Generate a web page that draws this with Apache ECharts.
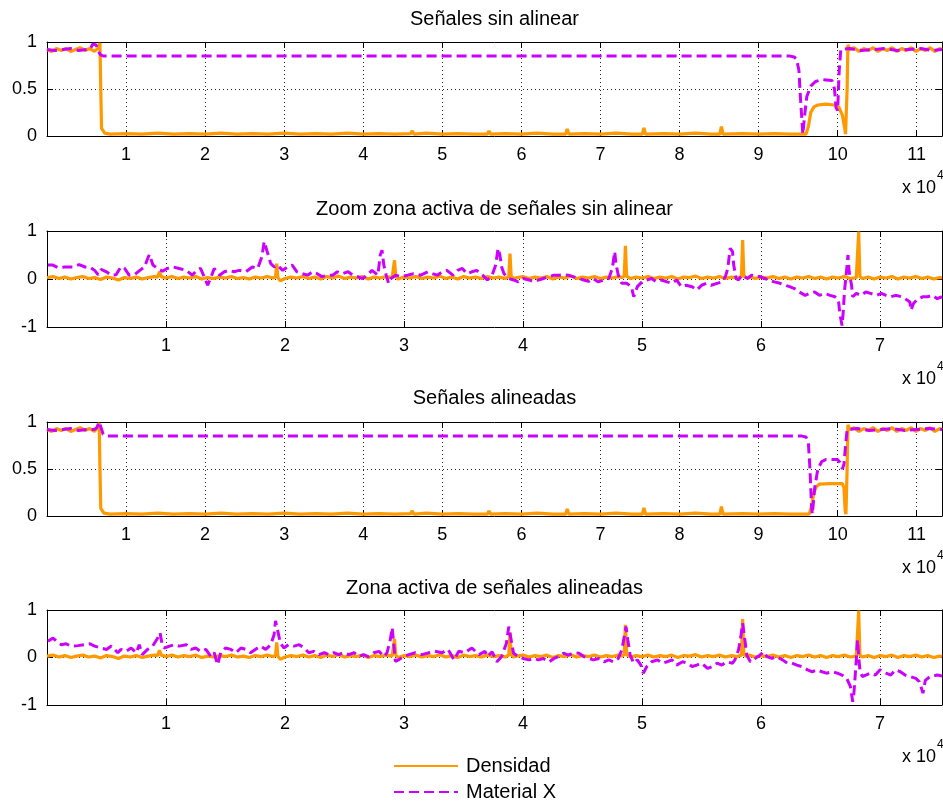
<!DOCTYPE html>
<html><head><meta charset="utf-8">
<script src="https://cdn.jsdelivr.net/npm/echarts@6/dist/echarts.min.js"></script>
<style>html,body{margin:0;padding:0;background:#fff}#c{width:943px;height:803px}</style>
</head><body><div id="c"></div>
<script>
// ---------- DATA ----------
const panelTitles = ['Señales sin alinear', 'Zoom zona activa de señales sin alinear', 'Señales alineadas', 'Zona activa de señales alineadas'];
const seriesNames = ['Densidad', 'Material X'];
const xMaxFull = 113200;
const xMaxZone = 75200;
const xTickStep = 10000;
const yTicksFull = [0, 0.5, 1];
const yTicksZone = [-1, 0, 1];
const xExponentLabel = 'x 10';
const xExponent = '4';

// Panel 1: señales sin alinear
const densidadSin = [[0,0.92],[600,0.9],[1200,0.93],[1800,0.91],[2400,0.93],[3000,0.9],[3600,0.92],[4200,0.94],[4800,0.91],[5400,0.93],[6000,0.9],[6400,0.93],[6600,0.96],[6700,0.99],[6800,0.5],[6900,0.08],[7100,0.06],[7300,0.03],[8000,0.02],[10000,0.025],[12000,0.02],[14000,0.03],[16000,0.02],[18000,0.025],[20000,0.02],[22000,0.03],[24000,0.02],[26000,0.025],[28000,0.02],[30000,0.03],[32000,0.02],[34000,0.025],[36000,0.02],[38000,0.03],[40000,0.02],[42000,0.025],[44000,0.02],[46000,0.025],[46200,0.055],[46400,0.02],[48000,0.03],[50000,0.02],[52000,0.025],[54000,0.02],[55700,0.02],[55900,0.055],[56100,0.02],[58000,0.025],[60000,0.02],[62000,0.03],[64000,0.02],[65600,0.02],[65800,0.075],[66000,0.02],[68000,0.025],[70000,0.02],[72000,0.03],[74000,0.02],[75300,0.02],[75500,0.085],[75700,0.02],[78000,0.025],[80000,0.02],[82000,0.03],[84000,0.02],[85100,0.02],[85300,0.1],[85500,0.02],[88000,0.025],[90000,0.02],[92000,0.025],[94000,0.02],[96000,0.02],[96300,0.1],[96600,0.25],[97000,0.31],[97500,0.33],[98500,0.34],[99500,0.33],[99900,0.33],[100200,0.3],[100600,0.22],[100900,0.08],[101000,0.02],[101200,0.5],[101300,0.97],[101500,0.92],[102100,0.94],[102700,0.9],[103300,0.93],[103900,0.91],[104500,0.94],[105100,0.9],[105700,0.93],[106300,0.91],[106900,0.94],[107500,0.9],[108100,0.93],[108700,0.91],[109300,0.94],[109900,0.9],[110500,0.93],[111100,0.91],[111700,0.94],[112300,0.9],[112900,0.93],[113200,0.92]];
const materialSin = [[0,0.92],[1000,0.91],[2000,0.92],[3000,0.93],[4000,0.91],[5000,0.92],[5500,0.93],[5800,0.98],[6000,1.0],[6200,0.97],[6500,0.9],[6800,0.86],[7200,0.85],[94000,0.85],[94500,0.84],[94800,0.82],[95100,0.7],[95300,0.4],[95600,0.02],[95800,0.2],[96100,0.42],[96600,0.53],[97200,0.58],[98000,0.6],[99300,0.59],[99600,0.5],[99800,0.3],[100000,0.27],[100200,0.7],[100400,0.92],[101500,0.93],[103000,0.91],[104500,0.92],[106000,0.93],[107500,0.91],[109000,0.92],[110500,0.93],[112000,0.91],[113200,0.92]];

// Panel 3: señales alineadas
const densidadAli = [[0,0.92],[600,0.9],[1200,0.93],[1800,0.91],[2400,0.93],[3000,0.9],[3600,0.92],[4200,0.94],[4800,0.91],[5400,0.93],[6000,0.9],[6300,0.93],[6500,0.96],[6600,0.99],[6700,0.5],[6800,0.08],[7000,0.06],[7200,0.03],[8000,0.02],[10000,0.025],[12000,0.02],[14000,0.03],[16000,0.02],[18000,0.025],[20000,0.02],[22000,0.03],[24000,0.02],[26000,0.025],[28000,0.02],[30000,0.03],[32000,0.02],[34000,0.025],[36000,0.02],[38000,0.03],[40000,0.02],[42000,0.025],[44000,0.02],[46000,0.025],[46200,0.055],[46400,0.02],[48000,0.03],[50000,0.02],[52000,0.025],[54000,0.02],[55700,0.02],[55900,0.055],[56100,0.02],[58000,0.025],[60000,0.02],[62000,0.03],[64000,0.02],[65600,0.02],[65800,0.075],[66000,0.02],[68000,0.025],[70000,0.02],[72000,0.03],[74000,0.02],[75300,0.02],[75500,0.085],[75700,0.02],[78000,0.025],[80000,0.02],[82000,0.03],[84000,0.02],[85100,0.02],[85300,0.1],[85500,0.02],[88000,0.025],[90000,0.02],[92000,0.025],[94000,0.02],[96400,0.02],[96700,0.1],[97000,0.25],[97300,0.31],[97700,0.34],[99000,0.345],[100600,0.345],[100800,0.3],[100950,0.06],[101050,0.02],[101200,0.5],[101300,0.97],[101500,0.92],[102100,0.94],[102700,0.9],[103300,0.93],[103900,0.91],[104500,0.94],[105100,0.9],[105700,0.93],[106300,0.91],[106900,0.94],[107500,0.9],[108100,0.93],[108700,0.91],[109300,0.94],[109900,0.9],[110500,0.93],[111100,0.91],[111700,0.94],[112300,0.9],[112900,0.93],[113200,0.92]];
const materialAli = [[0,0.92],[1000,0.91],[2000,0.92],[3000,0.93],[4000,0.91],[5000,0.92],[6000,0.92],[6300,0.94],[6600,1.0],[6800,0.95],[7100,0.87],[7700,0.85],[95500,0.85],[96000,0.84],[96300,0.78],[96500,0.5],[96700,0.1],[96800,0.02],[97100,0.3],[97500,0.5],[98000,0.58],[98500,0.6],[100000,0.6],[100300,0.57],[100600,0.5],[100800,0.55],[101000,0.75],[101200,0.92],[102500,0.93],[104000,0.91],[105500,0.92],[107000,0.93],[108500,0.91],[110000,0.92],[111500,0.93],[113200,0.92]];

// Panels 2 and 4: zona activa (Densidad is the reference signal, same in both)
const densidadZona = [[0,0.03],[500,0.05],[1000,0.01],[1500,0.04],[2000,0.0],[2500,0.03],[3000,0.05],[3500,0.01],[4000,0.03],[4500,-0.01],[5000,0.04],[5500,0.02],[6000,-0.02],[6500,0.03],[7000,0.01],[7500,0.04],[8000,0.0],[8500,0.03],[9000,0.05],[9300,0.04],[9450,0.15],[9600,0.05],[10000,0.02],[10500,0.05],[11000,0.01],[11500,0.04],[12000,0.02],[12500,0.05],[13000,0.0],[13500,0.03],[14000,0.01],[14500,0.04],[15000,0.02],[15500,0.05],[16000,0.01],[16500,0.03],[17000,0.0],[17500,0.04],[18000,0.02],[18500,0.05],[19000,0.02],[19200,0.04],[19300,0.32],[19400,0.03],[19600,-0.04],[20000,0.01],[20500,0.04],[21000,0.02],[21500,0.05],[22000,0.01],[22500,0.04],[23000,0.0],[23500,0.05],[24000,0.02],[24500,0.06],[25000,0.01],[25500,0.04],[26000,0.02],[26500,0.05],[27000,0.0],[27500,0.04],[28000,0.02],[28500,0.05],[29000,0.03],[29100,0.05],[29200,0.39],[29300,0.05],[29500,0.0],[30000,0.04],[30500,0.02],[31000,0.05],[31500,0.01],[32000,0.04],[32500,0.02],[33000,0.06],[33500,0.01],[34000,0.04],[34500,0.0],[35000,0.05],[35500,0.02],[36000,0.04],[36500,0.01],[37000,0.05],[37500,0.02],[38000,0.04],[38500,0.01],[38800,0.05],[38900,0.53],[39000,0.06],[39200,0.01],[39500,0.03],[40000,0.05],[40500,0.01],[41000,0.04],[41500,0.02],[42000,0.05],[42500,0.0],[43000,0.04],[43500,0.02],[44000,0.06],[44500,0.01],[45000,0.04],[45500,0.02],[46000,0.05],[46500,0.01],[47000,0.04],[47500,0.02],[48000,0.05],[48300,0.03],[48500,0.06],[48600,0.69],[48700,0.06],[49000,0.01],[49500,0.04],[50000,0.02],[50500,0.05],[51000,0.01],[51500,0.04],[52000,0.02],[52500,0.05],[53000,0.0],[53500,0.04],[54000,0.03],[54500,0.06],[55000,0.01],[55500,0.04],[56000,0.02],[56500,0.05],[57000,0.01],[57500,0.04],[58000,0.02],[58350,0.05],[58450,0.81],[58550,0.06],[58800,0.02],[59000,0.05],[59500,0.01],[60000,0.04],[60500,0.02],[61000,0.05],[61500,0.01],[62000,0.04],[62500,0.0],[63000,0.04],[63500,0.02],[64000,0.05],[64500,0.01],[65000,0.04],[65500,0.0],[66000,0.04],[66500,0.02],[67000,0.05],[67500,0.01],[68000,0.03],[68100,0.05],[68200,0.99],[68300,0.05],[68500,0.01],[69000,0.04],[69500,0.0],[70000,0.04],[70500,0.02],[71000,0.05],[71500,0.0],[72000,0.04],[72500,0.02],[73000,0.05],[73500,0.01],[74000,0.04],[74500,0.0],[75000,0.03],[75200,0.02]];
const materialZonaSin = [[80,0.29],[500,0.29],[900,0.24],[1500,0.25],[2200,0.25],[2700,0.3],[3200,0.25],[3600,0.25],[4000,0.18],[4300,0.09],[4550,0.2],[5000,0.15],[5400,0.08],[5800,0.09],[6200,0.25],[6500,0.23],[6900,0.08],[7350,0.09],[7800,0.18],[8200,0.25],[8400,0.39],[8600,0.51],[8900,0.29],[9300,0.22],[9700,0.16],[10100,0.22],[10600,0.25],[11100,0.22],[11700,0.18],[12200,0.08],[12650,0.2],[12900,0.22],[13200,0.05],[13500,-0.13],[13800,0.05],[14050,0.22],[14500,0.08],[14900,0.15],[15300,0.18],[15700,0.15],[16150,0.18],[16700,0.15],[17250,0.25],[17700,0.22],[18050,0.46],[18250,0.78],[18500,0.57],[18800,0.32],[19100,0.25],[19350,0.29],[19800,0.18],[20200,0.25],[20600,0.29],[21000,0.15],[21450,0.11],[21900,0.08],[22300,0.15],[22700,0.11],[23100,0.05],[23600,0.08],[24000,0.08],[24400,0.15],[24800,0.11],[25300,0.15],[25700,0.08],[26100,0.05],[26500,0.01],[26900,0.08],[27300,0.18],[27800,0.08],[28000,0.5],[28150,0.6],[28300,0.29],[28500,0.08],[28700,-0.09],[28900,0.01],[29300,0.08],[29700,0.05],[30300,0.08],[30800,0.11],[31400,0.08],[32000,0.15],[32400,0.11],[32800,0.08],[33200,0.15],[33600,0.18],[34100,0.08],[34500,0.18],[34900,0.22],[35300,0.11],[35700,0.15],[36100,0.18],[36600,0.08],[37000,-0.02],[37400,0.08],[37700,0.29],[37900,0.64],[38050,0.5],[38200,0.25],[38400,0.11],[38800,0.01],[39200,-0.02],[39600,-0.06],[40000,0.01],[40500,-0.02],[40900,-0.06],[41300,-0.02],[41700,0.01],[42200,0.05],[42600,0.08],[43000,0.08],[43400,0.09],[43800,0.08],[44200,0.05],[44700,0.01],[45100,-0.02],[45500,-0.05],[45900,0.01],[46300,-0.06],[46800,-0.02],[47200,0.01],[47500,0.22],[47700,0.57],[47800,0.32],[48000,0.08],[48300,-0.09],[48400,-0.13],[48700,-0.09],[49100,-0.16],[49300,-0.37],[49600,-0.16],[50000,-0.06],[50400,-0.02],[50800,0.01],[51200,-0.06],[51600,-0.02],[52100,-0.06],[52500,-0.09],[52900,-0.02],[53300,-0.16],[53700,-0.13],[54200,-0.16],[54600,-0.23],[55000,-0.13],[55400,-0.09],[55800,-0.13],[56300,-0.09],[56700,-0.06],[57000,0.05],[57200,0.22],[57400,0.64],[57600,0.57],[57700,0.29],[57900,0.01],[58100,-0.02],[58400,0.08],[58600,0.05],[58900,0.01],[59200,0.08],[59500,0.05],[59900,0.05],[60300,0.01],[60700,-0.02],[61100,-0.06],[61600,-0.09],[62000,-0.13],[62400,-0.16],[62800,-0.2],[63200,-0.27],[63700,-0.34],[64100,-0.3],[64500,-0.27],[64900,-0.34],[65300,-0.3],[65800,-0.34],[66200,-0.37],[66500,-0.44],[66600,-0.69],[66800,-0.97],[66900,-0.69],[67000,-0.27],[67200,0.22],[67300,0.5],[67400,0.15],[67600,-0.13],[67700,-0.37],[68000,-0.3],[68400,-0.34],[68800,-0.27],[69200,-0.3],[69700,-0.34],[70100,-0.3],[70500,-0.34],[70900,-0.37],[71300,-0.34],[71800,-0.37],[72100,-0.41],[72500,-0.48],[72600,-0.65],[72800,-0.51],[73200,-0.41],[73600,-0.37],[74000,-0.37],[74400,-0.34],[74800,-0.41],[75200,-0.37]];
const materialZonaAli = [[80,0.34],[500,0.41],[900,0.32],[1200,0.27],[1600,0.29],[2000,0.24],[2600,0.25],[3200,0.27],[3600,0.29],[4000,0.24],[4500,0.2],[5000,0.17],[5400,0.24],[5950,0.1],[6200,0.17],[6650,0.13],[7070,0.2],[7500,0.1],[7750,0.27],[8000,0.06],[8450,0.17],[8880,0.24],[9300,0.41],[9500,0.52],[9650,0.31],[9850,0.2],[10300,0.24],[10700,0.27],[11100,0.24],[11700,0.27],[12100,0.17],[12500,0.2],[12900,0.13],[13350,0.17],[13770,0.02],[14050,0.1],[14330,-0.15],[14600,0.1],[15000,0.2],[15450,0.17],[15870,0.1],[16300,0.2],[16700,0.17],[17100,0.1],[17500,0.17],[17960,0.24],[18380,0.17],[18800,0.27],[19080,0.48],[19200,0.77],[19400,0.55],[19600,0.31],[19900,0.2],[20300,0.27],[20750,0.24],[21200,0.27],[21600,0.2],[22000,0.1],[22400,0.13],[22850,0.06],[23300,0.1],[23700,0.06],[24100,0.1],[24500,0.06],[24900,0.1],[25360,0.06],[25800,0.1],[26200,0.02],[26600,0.06],[27000,0.02],[27460,0.1],[27900,0.13],[28300,0.02],[28570,0.1],[28850,0.38],[29000,0.63],[29100,0.38],[29270,-0.08],[29550,-0.05],[29970,0.02],[30400,0.06],[30950,0.1],[31500,0.06],[32100,0.1],[32600,0.13],[33200,0.1],[33700,0.17],[34200,-0.05],[34600,0.13],[35100,0.1],[35700,0.2],[36300,0.06],[36800,0.13],[37000,0.02],[37400,0.12],[37800,-0.09],[38200,0.02],[38600,0.3],[38800,0.65],[39000,0.37],[39200,0.09],[39600,0.02],[40000,-0.02],[40500,-0.05],[40900,-0.02],[41300,-0.05],[41700,-0.02],[42200,-0.09],[42600,-0.02],[43000,0.02],[43400,0.09],[43800,0.05],[44300,0.1],[44700,0.09],[45100,0.02],[45500,-0.02],[45900,-0.05],[46400,-0.02],[46800,-0.09],[47200,-0.05],[47600,-0.09],[48000,-0.02],[48300,0.16],[48500,0.44],[48650,0.65],[48800,0.37],[49000,0.05],[49300,-0.12],[49600,-0.05],[49900,-0.16],[50100,-0.33],[50400,-0.19],[50800,-0.09],[51300,-0.05],[51700,-0.12],[52100,-0.09],[52500,-0.05],[52900,-0.16],[53400,-0.09],[53800,-0.12],[54200,-0.19],[54600,-0.16],[55000,-0.12],[55500,-0.23],[55900,-0.19],[56300,-0.12],[56700,-0.16],[57100,-0.09],[57600,-0.12],[57800,-0.05],[58100,0.16],[58300,0.44],[58450,0.72],[58600,0.44],[58800,0.05],[59100,-0.09],[59500,-0.02],[59900,0.05],[60200,0.12],[60500,0.02],[60900,-0.02],[61300,0.02],[61800,-0.05],[62200,-0.12],[62600,-0.12],[63000,-0.16],[63400,-0.19],[63900,-0.26],[64300,-0.3],[64700,-0.26],[65100,-0.3],[65500,-0.33],[66000,-0.3],[66400,-0.33],[66800,-0.37],[67200,-0.44],[67500,-0.61],[67700,-0.93],[67800,-0.75],[68000,-0.05],[68100,0.37],[68200,0.02],[68300,-0.26],[68500,-0.4],[68800,-0.37],[69200,-0.33],[69600,-0.37],[70000,-0.26],[70500,-0.33],[70900,-0.37],[71300,-0.26],[71700,-0.3],[72100,-0.37],[72500,-0.4],[73000,-0.44],[73300,-0.51],[73600,-0.75],[73800,-0.48],[74200,-0.4],[74800,-0.37],[75200,-0.39]];

// ---------- LAYOUT / STYLE ----------
const FONT = '"Liberation Sans", Arial, Helvetica, sans-serif';
const ORANGE = '#FF9900';
const PURPLE = '#CC00FF';
const gridLeft = 47, gridWidth = 895;
const panels = [
  {top: 42, height: 94, xMax: xMaxFull, yTicks: yTicksFull, dens: densidadSin, mat: materialSin, titleY: 19},
  {top: 231, height: 96, xMax: xMaxZone, yTicks: yTicksZone, dens: densidadZona, mat: materialZonaSin, titleY: 209},
  {top: 422, height: 94, xMax: xMaxFull, yTicks: yTicksFull, dens: densidadAli, mat: materialAli, titleY: 398},
  {top: 610, height: 95, xMax: xMaxZone, yTicks: yTicksZone, dens: densidadZona, mat: materialZonaAli, titleY: 588}
];

const grid = [], xAxis = [], yAxis = [], series = [], title = [], graphic = [];
const dotted = {show: true, lineStyle: {color: '#000', width: 1, type: [1, 3], opacity: 0.85}};
panels.forEach((p, i) => {
  grid.push({left: gridLeft, width: gridWidth, top: p.top, height: p.height, outerBoundsMode: 'none', containLabel: false});
  const yMin = p.yTicks[0], yMax = p.yTicks[p.yTicks.length - 1], yInt = p.yTicks[1] - p.yTicks[0];
  xAxis.push({type: 'value', gridIndex: i, min: 0, max: p.xMax, interval: xTickStep, position: 'bottom',
    axisLine: {show: true, onZero: false, lineStyle: {color: '#000', width: 1}},
    axisTick: {show: true, inside: true, length: 6, lineStyle: {color: '#000'}},
    axisLabel: {show: true, color: '#000', fontSize: 18, fontFamily: FONT, margin: 10, showMinLabel: false, showMaxLabel: false,
      formatter: v => (v > 0 && v % xTickStep === 0) ? String(v / xTickStep) : ''},
    splitLine: dotted});
  xAxis.push({type: 'value', gridIndex: i, min: 0, max: p.xMax, interval: xTickStep, position: 'top',
    axisLine: {show: true, onZero: false, lineStyle: {color: '#000', width: 1}},
    axisTick: {show: true, inside: true, length: 6, lineStyle: {color: '#000'}},
    axisLabel: {show: false}, splitLine: {show: false}});
  yAxis.push({type: 'value', gridIndex: i, min: yMin, max: yMax, interval: yInt, position: 'left',
    axisLine: {show: true, onZero: false, lineStyle: {color: '#000', width: 1}},
    axisTick: {show: true, inside: true, length: 6, lineStyle: {color: '#000'}},
    axisLabel: {show: true, color: '#000', fontSize: 18, fontFamily: FONT, margin: 10},
    splitLine: dotted});
  yAxis.push({type: 'value', gridIndex: i, min: yMin, max: yMax, interval: yInt, position: 'right',
    axisLine: {show: true, onZero: false, lineStyle: {color: '#000', width: 1}},
    axisTick: {show: true, inside: true, length: 6, lineStyle: {color: '#000'}},
    axisLabel: {show: false}, splitLine: {show: false}});
  series.push({name: seriesNames[0], type: 'line', xAxisIndex: 2 * i, yAxisIndex: 2 * i, data: p.dens,
    showSymbol: false, symbol: 'none', sampling: null, clip: true, z: 2,
    lineStyle: {color: ORANGE, width: 3.2}, itemStyle: {color: ORANGE}});
  series.push({name: seriesNames[1], type: 'line', xAxisIndex: 2 * i, yAxisIndex: 2 * i, data: p.mat,
    showSymbol: false, symbol: 'none', sampling: null, clip: true, z: 3,
    lineStyle: {color: PURPLE, width: 3, type: [10, 5]}, itemStyle: {color: PURPLE}});
  title.push({text: panelTitles[i], left: gridLeft + gridWidth / 2, top: p.titleY - 11, textAlign: 'center', padding: 0,
    textStyle: {color: '#000', fontSize: 20, fontWeight: 'normal', fontFamily: FONT, lineHeight: 22}});
  const bottom = p.top + p.height;
  graphic.push({type: 'text', x: 936, y: bottom + 52, style: {text: xExponentLabel, align: 'right', verticalAlign: 'middle', fontSize: 18, fontFamily: FONT, fill: '#000'}});
  graphic.push({type: 'text', x: 937, y: bottom + 40, style: {text: xExponent, align: 'left', verticalAlign: 'middle', fontSize: 12, fontFamily: FONT, fill: '#000'}});
});

const chart = echarts.init(document.getElementById('c'), null, {renderer: 'canvas'});
chart.setOption({
  backgroundColor: '#fff',
  animation: false,
  title, grid, xAxis, yAxis, series, graphic,
  legend: {show: true, orient: 'vertical', left: 393, top: 755, padding: 0, itemWidth: 64, itemHeight: 2, itemGap: 4,
    data: seriesNames, selectedMode: false,
    itemStyle: {opacity: 0, borderWidth: 0},
    textStyle: {color: '#000', fontSize: 20, fontFamily: FONT, lineHeight: 22, padding: [0, 0, 0, 3]}},
  tooltip: {show: false}
});
</script></body></html>
